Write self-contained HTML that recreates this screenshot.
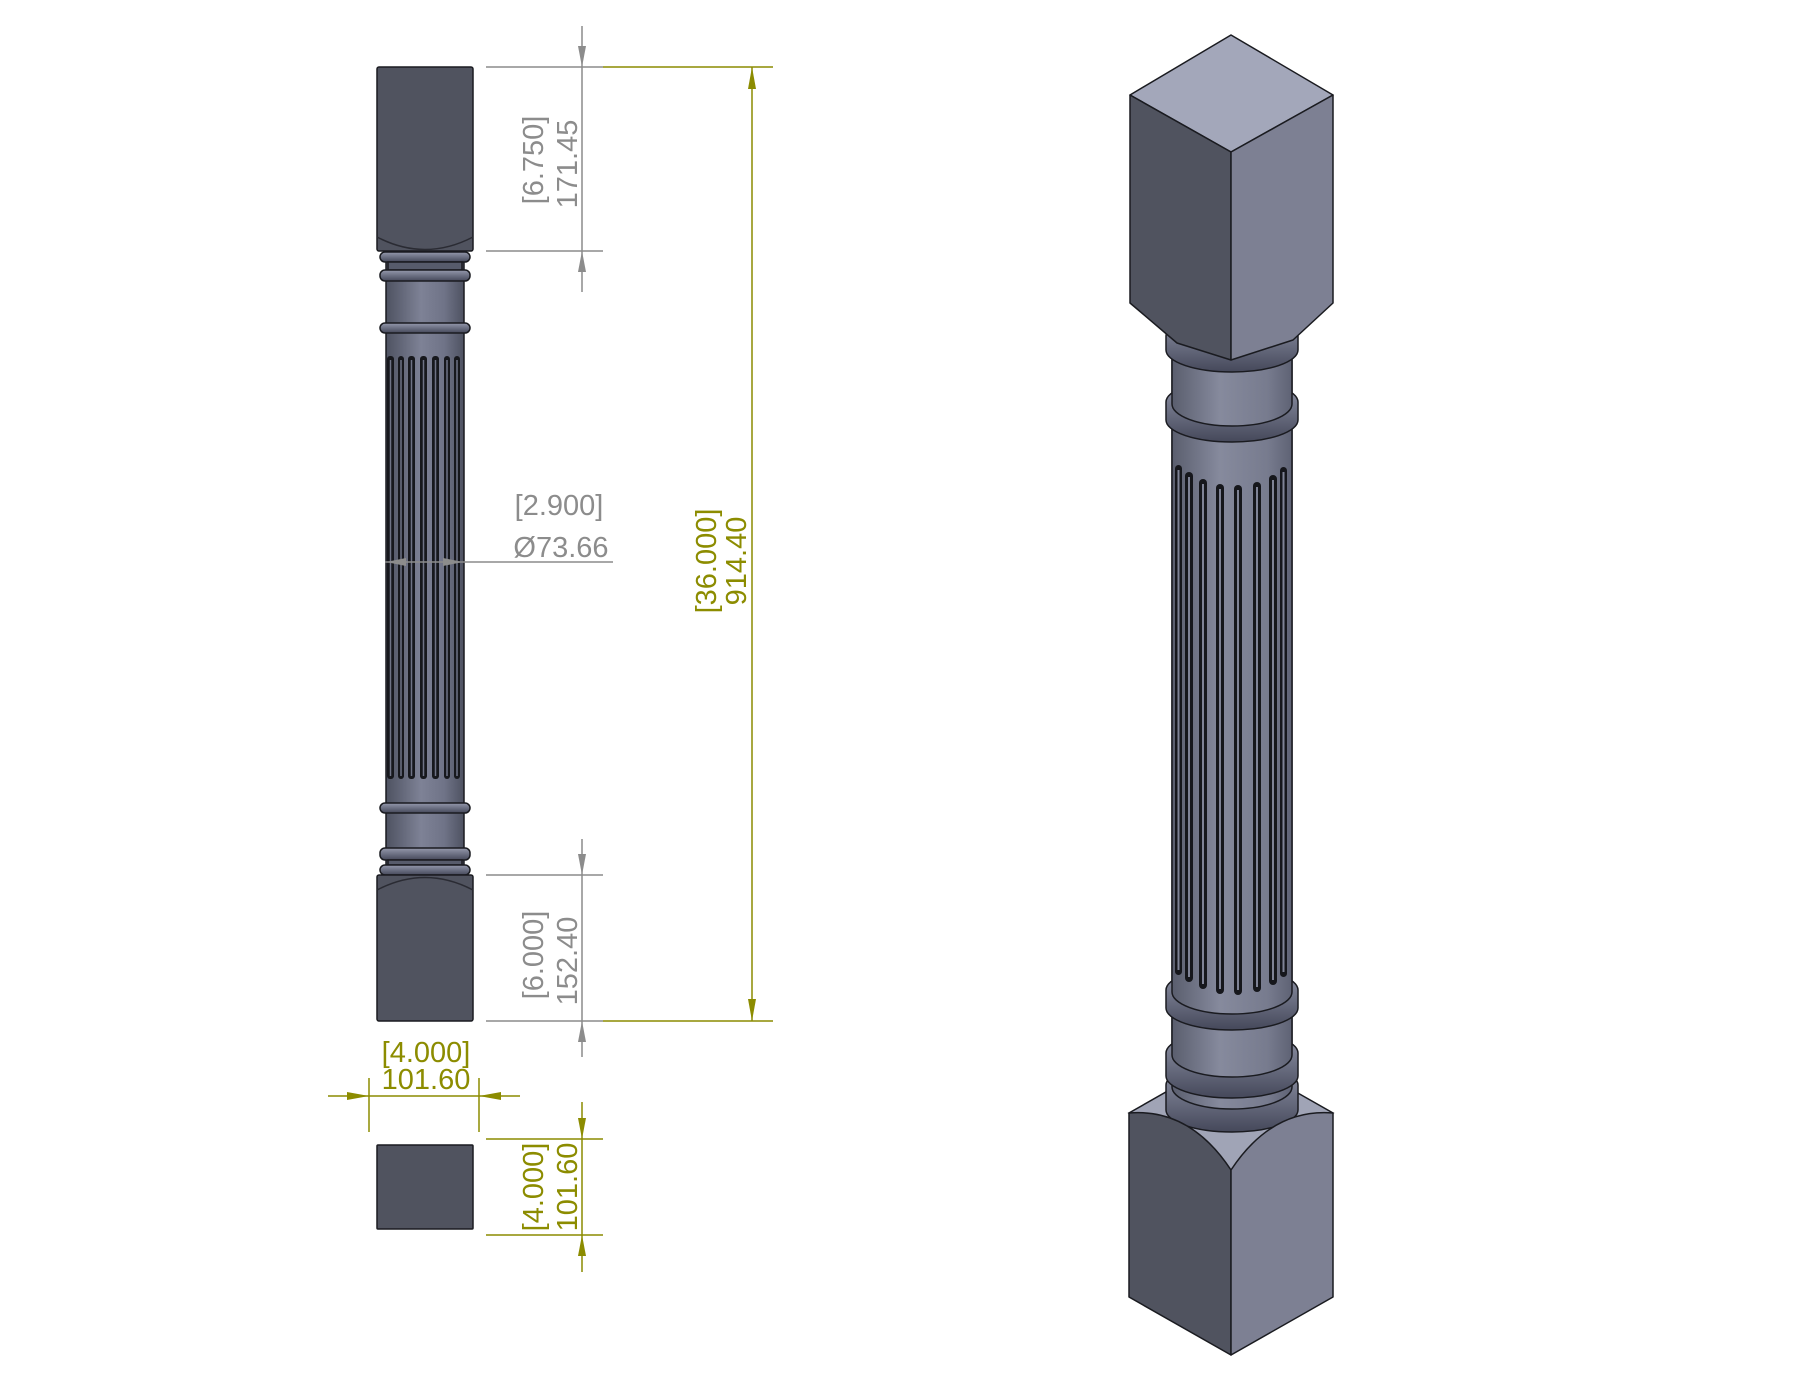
<!DOCTYPE html>
<html><head><meta charset="utf-8"><style>html,body{margin:0;padding:0;background:#fff}svg{display:block}</style></head>
<body>
<svg width="1800" height="1391" viewBox="0 0 1800 1391" xmlns="http://www.w3.org/2000/svg" font-family="Liberation Sans, sans-serif">
<defs>
<linearGradient id="sh" x1="0" x2="1" y1="0" y2="0">
<stop offset="0" stop-color="#4e5261"/><stop offset="0.45" stop-color="#7e8296"/><stop offset="0.75" stop-color="#6f7387"/><stop offset="1" stop-color="#4e5261"/></linearGradient>
<linearGradient id="rg" x1="0" x2="0" y1="0" y2="1">
<stop offset="0" stop-color="#9599ac"/><stop offset="0.5" stop-color="#6c7083"/><stop offset="1" stop-color="#45485a"/></linearGradient>
<linearGradient id="ish" x1="0" x2="1" y1="0" y2="0">
<stop offset="0" stop-color="#5a5e6e"/><stop offset="0.4" stop-color="#868a9d"/><stop offset="0.8" stop-color="#777b8e"/><stop offset="1" stop-color="#5e6274"/></linearGradient>
</defs>

<!-- ===== SIDE VIEW ===== -->
<g stroke="#1a1b20" stroke-width="1.5">
<rect x="386" y="250" width="78" height="630" fill="url(#sh)"/>
<rect x="377" y="67" width="96" height="184" rx="2" fill="#50535f"/>
<path d="M377,237 Q425,262 473,237" fill="none" stroke="#2a2b33"/>
<rect x="380" y="252" width="90" height="10" rx="5" fill="url(#rg)"/>
<rect x="388" y="262" width="74" height="8" fill="#575b6b"/>
<rect x="380" y="270" width="90" height="11" rx="5" fill="url(#rg)"/>
<rect x="380" y="323" width="90" height="10" rx="5" fill="url(#rg)"/>
<rect x="380" y="803" width="90" height="10" rx="5" fill="url(#rg)"/>
<rect x="380" y="848" width="90" height="12" rx="5" fill="url(#rg)"/>
<rect x="388" y="860" width="74" height="5" fill="#575b6b"/>
<rect x="380" y="865" width="90" height="10" rx="5" fill="url(#rg)"/>
<rect x="377" y="875" width="96" height="146" rx="2" fill="#50535f"/>
<path d="M377,890 Q425,865 473,890" fill="none" stroke="#2a2b33"/>
<rect x="377" y="1145" width="96" height="84" rx="1" fill="#50535f"/>
</g>
<g fill="#17181d">
<rect x="387" y="356" width="7" height="423" rx="3"/>
<rect x="398" y="356" width="6" height="423" rx="3"/>
<rect x="408" y="356" width="7" height="423" rx="3"/>
<rect x="420" y="356" width="7" height="423" rx="3"/>
<rect x="432" y="356" width="7" height="423" rx="3"/>
<rect x="444" y="356" width="6" height="423" rx="3"/>
<rect x="454" y="356" width="6" height="423" rx="3"/>
</g>
<g stroke="#6f7386" stroke-width="1.5">
<line x1="390.5" y1="360" x2="390.5" y2="776"/><line x1="401" y1="360" x2="401" y2="776"/>
<line x1="411.5" y1="360" x2="411.5" y2="776"/><line x1="423.5" y1="360" x2="423.5" y2="776"/>
<line x1="435.5" y1="360" x2="435.5" y2="776"/><line x1="447" y1="360" x2="447" y2="776"/>
<line x1="457" y1="360" x2="457" y2="776"/>
</g>

<!-- gray dims -->
<g stroke="#8c8c8c" stroke-width="1.5" fill="none">
<line x1="486" y1="67" x2="603" y2="67"/><line x1="486" y1="251" x2="603" y2="251"/>
<line x1="582" y1="26" x2="582" y2="292"/>
<line x1="486" y1="875" x2="603" y2="875"/><line x1="486" y1="1021" x2="603" y2="1021"/>
<line x1="582" y1="839" x2="582" y2="1057"/>
<line x1="385" y1="562" x2="613" y2="562"/>
</g>
<g fill="#8c8c8c">
<polygon points="582,67 578,46 586,46"/><polygon points="582,251 578,272 586,272"/>
<polygon points="582,875 578,854 586,854"/><polygon points="582,1021 578,1042 586,1042"/>
<polygon points="386,562 406,558 406,566"/><polygon points="463,562 443,558 443,566"/>
</g>
<g fill="#8c8c8c" font-size="29" text-anchor="middle">
<text transform="translate(543,160) rotate(-90)">[6.750]</text>
<text transform="translate(577,164) rotate(-90)">171.45</text>
<text transform="translate(543,955) rotate(-90)">[6.000]</text>
<text transform="translate(577,961) rotate(-90)">152.40</text>
<text x="559" y="515">[2.900]</text>
<text x="561" y="557">Ø73.66</text>
</g>

<!-- yellow dims -->
<g stroke="#8c8c00" stroke-width="1.5" fill="none">
<line x1="603" y1="67" x2="773" y2="67"/><line x1="603" y1="1021" x2="773" y2="1021"/>
<line x1="752" y1="67" x2="752" y2="1021"/>
<line x1="328" y1="1096" x2="520" y2="1096"/>
<line x1="369" y1="1078" x2="369" y2="1132"/><line x1="479" y1="1078" x2="479" y2="1132"/>
<line x1="486" y1="1139" x2="603" y2="1139"/><line x1="486" y1="1235" x2="603" y2="1235"/>
<line x1="582" y1="1102" x2="582" y2="1272"/>
</g>
<g fill="#8c8c00">
<polygon points="752,67 748,89 756,89"/><polygon points="752,1021 748,999 756,999"/>
<polygon points="369,1096 347,1092 347,1100"/><polygon points="479,1096 501,1092 501,1100"/>
<polygon points="582,1139 578,1118 586,1118"/><polygon points="582,1235 578,1256 586,1256"/>
</g>
<g fill="#8c8c00" font-size="29" text-anchor="middle">
<text transform="translate(716,561) rotate(-90)">[36.000]</text>
<text transform="translate(746,561) rotate(-90)">914.40</text>
<text x="426" y="1062">[4.000]</text>
<text x="426" y="1089">101.60</text>
<text transform="translate(543,1187) rotate(-90)">[4.000]</text>
<text transform="translate(577,1187) rotate(-90)">101.60</text>
</g>

<!-- ===== ISOMETRIC ===== -->
<g stroke="#1a1b20" stroke-width="1.5">
<polygon points="1231,1055 1333,1113 1231,1170 1129,1113" fill="#a0a4b6"/>
<path d="M1172,330 L1292,330 L1292,1110 L1172,1110 Z" fill="url(#ish)"/>
</g>
<g stroke="#1a1b20" stroke-width="1.5">
<!-- R5 -->
<path d="M1166,1085 A66,22 0 0 1 1298,1085 L1298,1110 A66,22 0 0 1 1166,1110 Z" fill="url(#rg)"/>
<path d="M1172,1060 L1292,1060 L1292,1087 A60,22 0 0 1 1172,1087 Z" fill="url(#ish)"/>
<!-- R4 -->
<path d="M1166,1053 A66,22 0 0 1 1298,1053 L1298,1076 A66,22 0 0 1 1166,1076 Z" fill="url(#rg)"/>
<path d="M1172,1000 L1292,1000 L1292,1055 A60,22 0 0 1 1172,1055 Z" fill="url(#ish)"/>
<!-- R3 -->
<path d="M1166,990 A66,22 0 0 1 1298,990 L1298,1008 A66,22 0 0 1 1166,1008 Z" fill="url(#rg)"/>
<path d="M1172,420 L1292,420 L1292,992 A60,22 0 0 1 1172,992 Z" fill="url(#ish)"/>
<!-- R2 -->
<path d="M1166,402 A66,22 0 0 1 1298,402 L1298,420 A66,22 0 0 1 1166,420 Z" fill="url(#rg)"/>
<path d="M1172,340 L1292,340 L1292,404 A60,22 0 0 1 1172,404 Z" fill="url(#ish)"/>
<!-- R1 -->
<path d="M1166,336 A66,22 0 0 1 1298,336 L1298,350 A66,22 0 0 1 1166,350 Z" fill="url(#rg)"/>
</g>
<g fill="#16171c">
<rect x="1175" y="465" width="7" height="510" rx="3.5"/>
<rect x="1185" y="472" width="8" height="510" rx="4"/>
<rect x="1199" y="479" width="8" height="510" rx="4"/>
<rect x="1216" y="484" width="8" height="510" rx="4"/>
<rect x="1234" y="485" width="8" height="510" rx="4"/>
<rect x="1253" y="482" width="8" height="510" rx="4"/>
<rect x="1269" y="475" width="8" height="510" rx="4"/>
<rect x="1280" y="467" width="7" height="510" rx="3.5"/>
</g>
<g stroke="#7f8396" stroke-width="2">
<line x1="1178.5" y1="470" x2="1178.5" y2="970"/><line x1="1189" y1="477" x2="1189" y2="977"/>
<line x1="1203" y1="484" x2="1203" y2="984"/><line x1="1220" y1="489" x2="1220" y2="989"/>
<line x1="1238" y1="490" x2="1238" y2="990"/><line x1="1257" y1="487" x2="1257" y2="987"/>
<line x1="1273" y1="480" x2="1273" y2="980"/><line x1="1283.5" y1="472" x2="1283.5" y2="972"/>
</g>
<g stroke="#1a1b20" stroke-width="1.5" stroke-linejoin="round">
<polygon points="1231,35 1333,95 1231,152 1130,95" fill="#a3a7ba"/>
<polygon points="1130,95 1231,152 1231,360 1177,343 1130,303" fill="#50535f"/>
<polygon points="1333,95 1231,152 1231,360 1293,340 1333,303" fill="#7d8093"/>
<path d="M1129,1113 Q1190,1108 1231,1170 L1231,1355 L1129,1297 Z" fill="#50535f"/>
<path d="M1333,1113 Q1272,1108 1231,1170 L1231,1355 L1333,1297 Z" fill="#7d8093"/>
</g>
</svg>
</body></html>
